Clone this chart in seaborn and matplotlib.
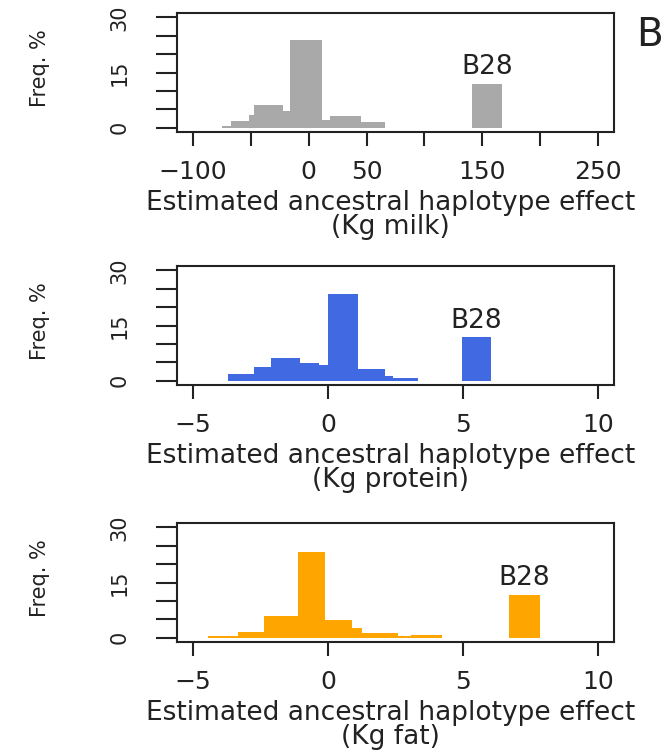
import matplotlib
matplotlib.use("Agg")
import matplotlib.pyplot as plt
import seaborn as sns
import numpy as np
import pandas as pd

# bin edges and frequency (%) per bin
milk_edges = [-75, -67, -52, -47, -22, -16, 11, 18, 45, 66, 141, 167]
milk_freq = [0.4, 1.8, 3.5, 6.2, 4.6, 23.8, 2.1, 3.1, 1.6, 0, 12.0]

protein_edges = [-3.7, -2.75, -2.1, -1.05, -0.35, 0.0, 1.12, 2.12, 2.4, 3.33, 4.97, 6.04]
protein_freq = [1.8, 3.7, 6.2, 4.7, 4.3, 23.6, 3.1, 1.3, 0.8, 0, 11.8]

fat_edges = [-4.45, -3.35, -2.38, -1.1, -0.1, 0.9, 1.27, 2.58, 3.06, 4.22, 6.72, 7.84]
fat_freq = [0.4, 1.6, 6.0, 23.4, 4.7, 2.6, 1.2, 0.4, 0.7, 0, 11.6]

units = ["Kg milk", "Kg protein", "Kg fat"]
colors = ["#A9A9A9", "#4169E1", "#FFA500"]

milk_xticks = [-100, -50, 0, 50, 100, 150, 200, 250]
milk_xlabels = ["\u2212100", "", "0", "50", "", "150", "", "250"]
small_xticks = [-5, 0, 5, 10]
small_xlabels = ["\u22125", "0", "5", "10"]
yticks = [0, 5, 10, 15, 20, 25, 30]
ylabels = ["0", "", "", "15", "", "", "30"]

sns.set_theme(style="ticks")
plt.rcParams["font.family"] = ["DejaVu Sans"]
ink = "#222222"
plt.rcParams.update({
    "axes.edgecolor": ink,
    "axes.linewidth": 1.5,
    "xtick.color": ink,
    "ytick.color": ink,
    "text.color": ink,
    "axes.labelcolor": ink,
})

fig = plt.figure(figsize=(6.66, 7.52), dpi=100)

W, H = 666.0, 752.0
left, right = 177, 614
box_tops = [13, 266, 523]
box_h = 119

panels = [
    (milk_edges, milk_freq, (-114, 264), milk_xticks, milk_xlabels),
    (protein_edges, protein_freq, (-5.6, 10.6), small_xticks, small_xlabels),
    (fat_edges, fat_freq, (-5.6, 10.6), small_xticks, small_xlabels),
]

for i, (edges, freq, xlim, xt, xl) in enumerate(panels):
    top = box_tops[i]
    ax = fig.add_axes([left / W, 1 - (top + box_h) / H, (right - left) / W, box_h / H])
    e = np.array(edges, dtype=float)
    df = pd.DataFrame({"mid": (e[:-1] + e[1:]) / 2, "freq": freq})
    sns.histplot(data=df, x="mid", weights="freq", bins=list(edges), color=colors[i],
                 alpha=1, linewidth=0, edgecolor="none", ax=ax)
    ax.set_xlim(*xlim)
    ax.set_ylim(-1.2, 31.2)
    ax.set_xticks(xt, xl, fontsize=18)
    ax.set_yticks(yticks, ylabels, fontsize=15, rotation=90, va="center")
    ax.tick_params(axis="x", direction="out", length=10, width=1.5, pad=10)
    ax.tick_params(axis="y", direction="out", length=15, width=1.5, pad=19)
    for s in ax.spines.values():
        s.set_visible(True)
        s.set_linewidth(1.5)

    ax.set_xlabel("Estimated ancestral haplotype effect\n(" + units[i] + ")",
                  fontsize=19, linespacing=0.9)
    ax.xaxis.set_label_coords(0.488, -0.49)
    ax.set_ylabel("Freq. %", fontsize=15)
    ax.yaxis.label.set_va("center")
    ax.yaxis.set_label_coords(-0.3135, 0.54)

    bx = (edges[-2] + edges[-1]) / 2
    ax.text(bx, freq[-1] + 4.5, "B28", ha="center", va="center", fontsize=19)

fig.text(650 / W, 1 - 35 / H, "B", ha="center", va="center", fontsize=28)

fig.savefig("out.png", dpi=100)
